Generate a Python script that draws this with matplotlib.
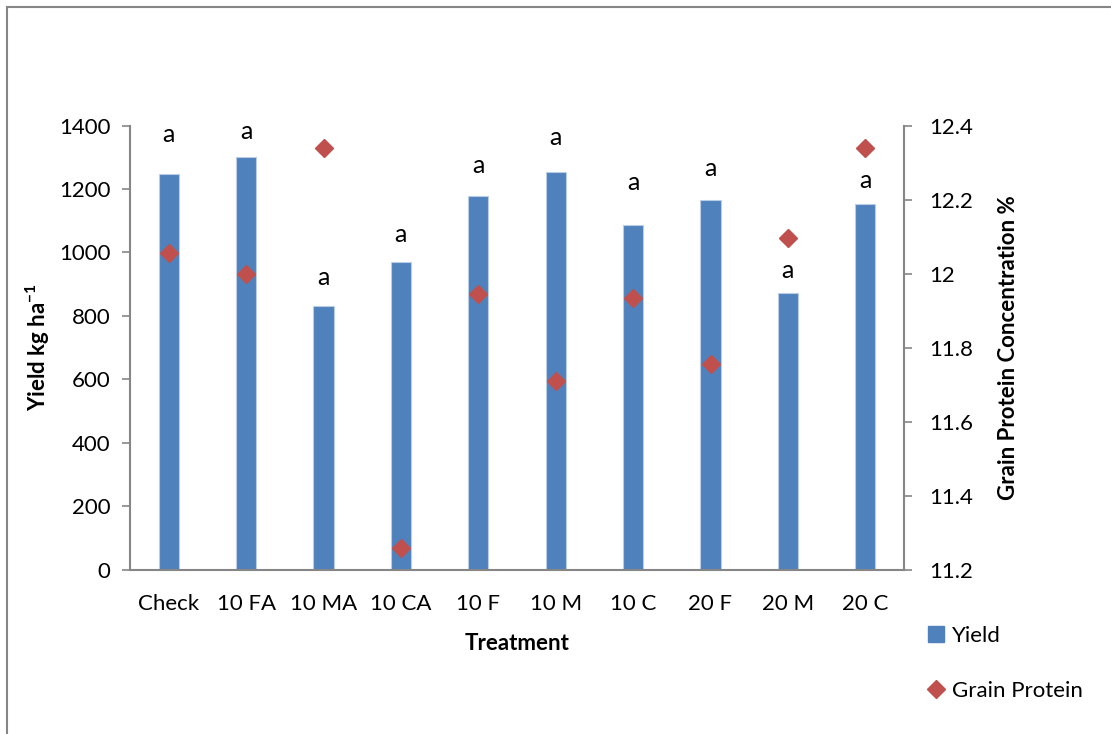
import matplotlib
matplotlib.use('Agg')
import matplotlib.pyplot as plt
from matplotlib.lines import Line2D
from matplotlib.patches import Rectangle

plt.rcParams['font.family'] = ['Lato', 'DejaVu Sans']
plt.rcParams['mathtext.fontset'] = 'custom'
plt.rcParams['mathtext.rm'] = 'Lato'
plt.rcParams['mathtext.bf'] = 'Lato:bold'

treatments = ['Check', '10 FA', '10 MA', '10 CA', '10 F', '10 M', '10 C', '20 F', '20 M', '20 C']
yield_kg = [1247, 1301, 831, 970, 1178, 1254, 1086, 1166, 872, 1152]
protein = [12.055, 11.999, 12.339, 11.258, 11.945, 11.709, 11.935, 11.755, 12.096, 12.339]
letters = ['a'] * 10
letter_y = [1373, 1380, 922, 1055, 1273, 1361, 1219, 1263, 944, 1225]

blue = '#4F81BD'
red = '#C0504D'
grey = '#868686'

fig = plt.figure(figsize=(11.11, 7.34), dpi=100)
fig.patches.append(Rectangle((7 / 1111, -0.1), 1.2, 1.1 - 7 / 734, transform=fig.transFigure,
                             fill=False, edgecolor=grey, linewidth=1.5))

ax = fig.add_axes([130 / 1111, 1 - 569.5 / 734, (904 - 130) / 1111, 444 / 734])
x = list(range(len(treatments)))
ax.bar(x, yield_kg, width=0.26, color=blue, edgecolor='#B9CDE5', linewidth=0.8, zorder=2)
for xi, lab, ly in zip(x, letters, letter_y):
    ax.text(xi, ly, lab, ha='center', va='center', fontsize=18)

ax.set_xlim(-0.5, 9.5)
ax.set_ylim(0, 1400)
ax.set_yticks(range(0, 1401, 200))
ax.set_xticks(x)
ax.set_xticklabels(treatments, fontsize=16)
ax.tick_params(axis='x', length=0, pad=18)
ax.tick_params(axis='y', labelsize=16, length=6, color=grey, width=1.2, pad=8)
for s in ['top', 'right']:
    ax.spines[s].set_visible(False)
for s in ['left', 'bottom']:
    ax.spines[s].set_color(grey)
    ax.spines[s].set_linewidth(1.5)
ax.set_xlabel('Treatment', fontsize=16, fontweight='bold', labelpad=13)
ax.set_ylabel(r'Yield kg ha$^{\mathbf{-1}}$', fontsize=16, fontweight='bold', labelpad=5)

ax2 = ax.twinx()
ax2.plot(x, protein, linestyle='none', marker='D', markersize=9.5, color=red, zorder=3)
ax2.set_ylim(11.2, 12.4)
ax2.set_yticks([11.2, 11.4, 11.6, 11.8, 12.0, 12.2, 12.4])
ax2.set_yticklabels(['11.2', '11.4', '11.6', '11.8', '12', '12.2', '12.4'])
ax2.tick_params(axis='y', labelsize=16, length=6, color=grey, width=1.2, pad=12)
for s in ['top', 'left', 'bottom']:
    ax2.spines[s].set_visible(False)
ax2.spines['right'].set_color(grey)
ax2.spines['right'].set_linewidth(1.5)
ax2.set_ylabel('Grain Protein Concentration %', fontsize=16, fontweight='bold', labelpad=18)

handles = [Line2D([], [], linestyle='none', marker='s', markersize=11, color=blue),
           Line2D([], [], linestyle='none', marker='D', markersize=9.5, color=red)]
fig.legend(handles, ['Yield', 'Grain Protein'], loc='upper left',
           bbox_to_anchor=(914 / 1111, 1 - 615 / 734), frameon=False, fontsize=16,
           handlelength=1.0, handletextpad=0.2, labelspacing=1.55, borderpad=0)

fig.savefig('out.png', dpi=100)
